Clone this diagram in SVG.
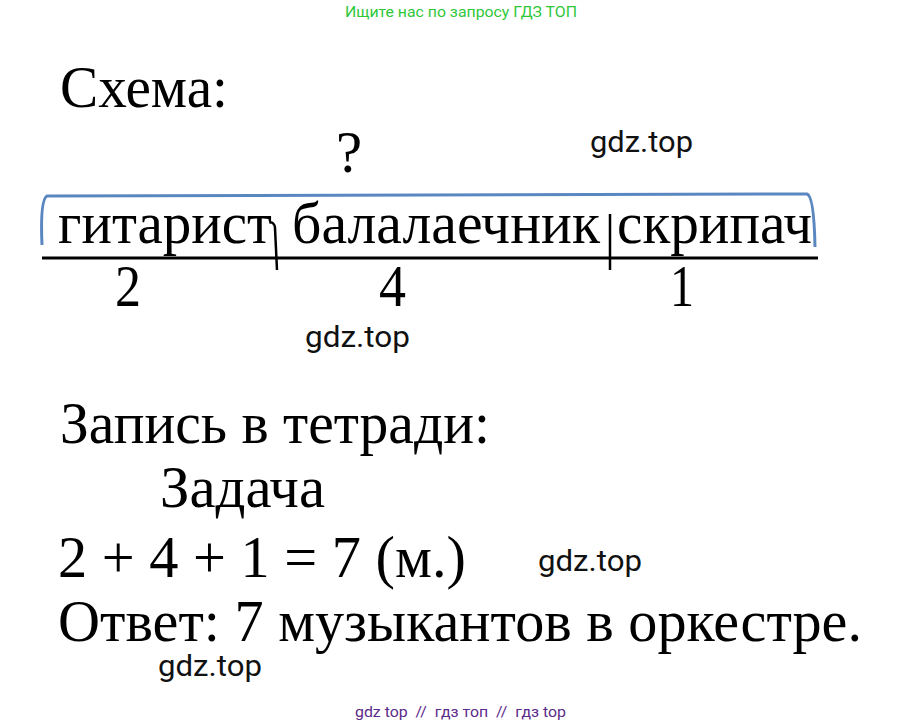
<svg xmlns="http://www.w3.org/2000/svg" width="922" height="726" viewBox="0 0 922 726">
<style>
.t{font-family:"Liberation Serif","Times New Roman",serif;font-size:59px;fill:#000}
.w{font-family:Roboto,"Liberation Sans",sans-serif;font-size:30px;fill:#111}
.s{font-family:Roboto,"Liberation Sans",sans-serif;font-size:15.5px}
</style>
<rect width="922" height="726" fill="#fff"/>
<text class="s" x="345" y="17" textLength="232" lengthAdjust="spacingAndGlyphs" fill="#2fc73a">Ищите нас по запросу ГДЗ ТОП</text>
<g id="title"><text class="t" x="60" y="107" textLength="168" lengthAdjust="spacingAndGlyphs">Схема:</text></g>
<g id="question"><text class="t" x="336" y="172">?</text></g>
<text class="w" x="590" y="152" textLength="103" lengthAdjust="spacingAndGlyphs">gdz.top</text>
<g id="connectors">
<path d="M42,245 Q40,200 47,196 L807,194 Q814,196 815,247" fill="none" stroke="#5b87c0" stroke-width="3"/>
<line x1="42" y1="258" x2="818" y2="258" stroke="#000" stroke-width="3"/>
<path d="M271,222 Q275,224 275,228 L277,270" fill="none" stroke="#000" stroke-width="2.5"/>
<line x1="610" y1="214" x2="610" y2="270" stroke="#000" stroke-width="2.5"/>
</g>
<g id="guitarist"><text class="t" x="58" y="243" textLength="214" lengthAdjust="spacingAndGlyphs">гитарист</text><text class="t" x="115" y="306" textLength="26" lengthAdjust="spacingAndGlyphs">2</text></g>
<g id="balalaika"><text class="t" x="292" y="243" textLength="308" lengthAdjust="spacingAndGlyphs">балалаечник</text><text class="t" x="379" y="306" textLength="27" lengthAdjust="spacingAndGlyphs">4</text></g>
<g id="violin"><text class="t" x="617" y="243" textLength="195" lengthAdjust="spacingAndGlyphs">скрипач</text><text class="t" x="670" y="306" textLength="24" lengthAdjust="spacingAndGlyphs">1</text></g>
<text class="w" x="305" y="347" textLength="105" lengthAdjust="spacingAndGlyphs">gdz.top</text>
<g id="notebook">
<text class="t" x="60" y="443" textLength="430" lengthAdjust="spacingAndGlyphs">Запись в тетради:</text>
<text class="t" x="160" y="507" textLength="165" lengthAdjust="spacingAndGlyphs">Задача</text>
<text class="t" x="58" y="577" textLength="408" lengthAdjust="spacingAndGlyphs">2 + 4 + 1 = 7 (м.)</text>
<text class="t" x="58" y="641" textLength="804" lengthAdjust="spacingAndGlyphs">Ответ: 7 музыкантов в оркестре.</text>
</g>
<text class="w" x="538" y="571" textLength="104" lengthAdjust="spacingAndGlyphs">gdz.top</text>
<text class="w" x="158" y="676" textLength="104" lengthAdjust="spacingAndGlyphs">gdz.top</text>
<text class="s" x="355" y="717" textLength="211" lengthAdjust="spacingAndGlyphs" fill="#5c2a8a" xml:space="preserve">gdz top  //  гдз топ  //  гдз top</text>
</svg>
